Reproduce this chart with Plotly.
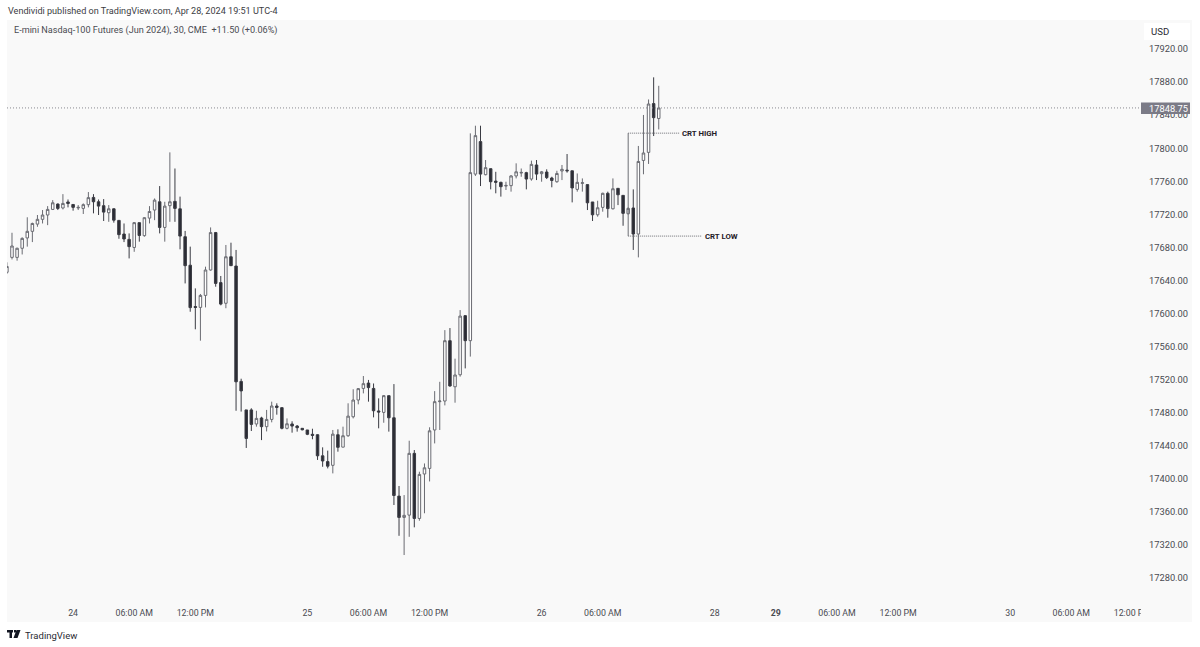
import plotly.graph_objects as go

# 30 min bars
opens = [17650, 17668, 17668, 17679, 17691.5, 17699.5, 17708.25, 17714, 17719.25, 17726, 17732.5, 17727.75, 17735, 17732, 17727.75, 17727.25, 17731.75, 17740.5, 17735.25, 17730.5, 17722, 17726.75, 17712.75, 17696.25, 17689.75, 17680, 17710, 17694.25, 17715.5, 17725.25, 17735.25, 17704.25, 17730.5, 17735.75, 17726.75,
         17693, 17658.5, 17608.5, 17607.5, 17622, 17652.75, 17698, 17637.5, 17612.5, 17668.75, 17657.5, 17518, 17483.5, 17483.5, 17466.5, 17473.75, 17463.25, 17472, 17488.25, 17486.25, 17461.25, 17466.5, 17464, 17461.25, 17459.25, 17454, 17453.5, 17428, 17421, 17416.5, 17453.5, 17438.5, 17452.25, 17475.25, 17495.5, 17509.5, 17516, 17509.5, 17482.25, 17480.5, 17500.75,
         17474, 17379.25, 17353.5, 17356.25, 17431, 17352.25, 17406, 17412.75, 17459.25, 17493.5, 17494.25, 17567.25, 17511.5, 17526, 17597.5, 17567.25,
         17768.75, 17808, 17768, 17775.25, 17760.25, 17758.75, 17754.25, 17754.75, 17766.5, 17770, 17770.5, 17762.75, 17779.75, 17769.25, 17771.25, 17764, 17759.5,
         17772.5, 17773.5, 17772.75, 17750.25, 17757.5, 17756, 17735, 17719.5, 17728.5, 17745.5, 17726.75, 17751.5, 17743, 17720.75, 17727.75, 17696.25, 17785.25, 17795, 17854, 17836]
highs = [17662, 17697.75, 17679.75, 17692.25, 17716.5, 17710, 17719.25, 17725.25, 17730, 17737.25, 17733.25, 17744.5, 17738, 17732, 17731.25, 17733.25, 17747, 17744.5, 17738, 17738.5, 17731.25, 17727.25, 17713, 17709, 17697, 17710.75, 17710, 17716.5, 17730, 17739.25, 17754.25, 17735.25, 17795, 17775.5, 17741.5,
         17700, 17681, 17630.5, 17623.75, 17656.75, 17704.25, 17698.75, 17645.5, 17683, 17685.75, 17677, 17521.25, 17483.5, 17485.5, 17482.5, 17475.25, 17483.5, 17493.5, 17491.5, 17486.5, 17473.25, 17469.75, 17465.25, 17461.5, 17459.25, 17460.75, 17454, 17438.25, 17434.25, 17459.25, 17460, 17463.25, 17491.5, 17508.5, 17510, 17524.5, 17519.75, 17515.5, 17497.5, 17501.5, 17500.75,
         17514.75, 17391.5, 17380.5, 17446.25, 17435, 17408.75, 17418.75, 17462.5, 17506.25, 17517.5, 17580, 17582.5, 17545.5, 17604.25, 17598.25, 17818,
         17827.25, 17827.25, 17785.75, 17775.5, 17771.5, 17759.5, 17759.5, 17767.5, 17781.75, 17775.5, 17771.5, 17785, 17785.75, 17772.5, 17774.5, 17765.5, 17772.75,
         17779.75, 17793, 17772.75, 17769.5, 17763.5, 17756, 17735, 17736.5, 17746.25, 17747.5, 17763.5, 17751.5, 17743, 17728.5, 17750.25, 17802.75, 17840.25, 17859, 17885.75, 17875.5]
lows = [17648, 17665.5, 17664, 17671.5, 17681, 17686.5, 17705, 17709, 17707, 17725.25, 17725.25, 17726, 17728.5, 17724.5, 17725.25, 17720.5, 17728.5, 17721.25, 17719.25, 17712, 17711, 17710, 17690.5, 17686.5, 17666.75, 17674.75, 17687, 17693, 17709, 17713, 17697, 17687, 17711, 17711, 17677.75,
        17636.5, 17602.25, 17581, 17567.25, 17607.5, 17652, 17632.5, 17610, 17606.5, 17657.5, 17482.5, 17481.5, 17437.5, 17458, 17463.25, 17447, 17457.5, 17468.5, 17477.75, 17460, 17460, 17456, 17457.25, 17458.75, 17453, 17448, 17423, 17414.75, 17412.75, 17406.75, 17433, 17438.25, 17451, 17473.25, 17490.25, 17503.5, 17493.5, 17474.5, 17461.25, 17468, 17457.25,
        17368.5, 17331.25, 17308, 17330, 17341.5, 17349.5, 17358.5, 17397, 17443, 17459.25, 17489, 17511.5, 17492.25, 17523.75, 17533.75, 17548,
        17766.5, 17754.25, 17767.25, 17750.25, 17745.5, 17741.5, 17749.5, 17747.5, 17763.5, 17765.5, 17750.25, 17760.75, 17761.5, 17759.5, 17762.75, 17752.75, 17758.25,
        17761.5, 17770.5, 17734.5, 17747.5, 17747.5, 17725.25, 17712, 17717.25, 17723.25, 17716, 17726, 17731.25, 17706.25, 17720, 17677, 17668, 17768.5, 17781, 17814.75, 17822.75]
closes = [17657, 17681.75, 17679, 17691, 17699.5, 17709, 17714, 17719.25, 17726, 17734, 17727.25, 17733.25, 17733.25, 17728.5, 17728.5, 17731.75, 17740.25, 17735.25, 17730, 17722.75, 17726.75, 17713, 17695.5, 17690.25, 17681, 17710, 17694.5, 17716, 17723.5, 17737.25, 17704.25, 17730, 17735.25, 17727.25, 17693.75,
          17658, 17607.25, 17607.5, 17622, 17652.75, 17698, 17636.5, 17611.5, 17668.75, 17658, 17517.5, 17506.5, 17449, 17466, 17473.25, 17463.25, 17472, 17488.25, 17486.5, 17461.25, 17466.75, 17464, 17462, 17459.5, 17454, 17452.75, 17428, 17421.75, 17415.5, 17454.25, 17438.25, 17452.25, 17476, 17495.5, 17509.25, 17515.25, 17510.5, 17482.5, 17481, 17500.75, 17474,
          17380, 17353.5, 17356, 17431, 17352.25, 17405.5, 17413.5, 17458.25, 17493.5, 17494.25, 17567.25, 17512.5, 17525.75, 17597, 17567.25, 17770.5,
          17815.25, 17768.75, 17776.5, 17759.5, 17758.75, 17753.5, 17755, 17766.5, 17771.5, 17770.75, 17762.75, 17780.5, 17768.75, 17771.5, 17764.5, 17761, 17769.5,
          17774.5, 17772.75, 17752, 17758.75, 17758.25, 17734, 17719.5, 17728, 17745.5, 17727, 17751, 17743.75, 17721.25, 17727.25, 17696.25, 17784, 17794.25, 17853.5, 17837, 17848.75]

bars = list(range(len(opens)))

time_ticks = [13, 25, 37, 59, 71, 83, 105, 117, 139, 151, 163, 175, 197, 209, 221]
time_labels = ["24", "06:00 AM", "12:00 PM", "25", "06:00 AM", "12:00 PM", "26", "06:00 AM", "28", "<b>29</b>",
               "06:00 AM", "12:00 PM", "30", "06:00 AM", "12:00 PM"]

last_price = 17848.75
crt_high = 17818.25
crt_low = 17693.75

FONT = "Roboto"
TEXT = "#4a4b52"
BG = "#f9f9f9"
LEFT, RIGHT, TOP, BOTTOM = 7, 1141, 20, 601


def px(x):
    return (x - LEFT) / (RIGHT - LEFT)


def py(y):
    return (BOTTOM - y) / (BOTTOM - TOP)


def box(x0, y0, x1, y1, color, layer="above"):
    return dict(type="rect", xref="paper", yref="paper", x0=px(x0), x1=px(x1), y0=py(y0), y1=py(y1),
                fillcolor=color, line_width=0, layer=layer)


def label(x, y, text, size=10, color=TEXT, anchor="left", **kw):
    return dict(xref="paper", yref="paper", x=px(x), y=py(y), text=text, showarrow=False, xanchor=anchor,
                yanchor="middle", font=dict(family=FONT, size=size, color=color), borderpad=0, **kw)


fig = go.Figure(go.Candlestick(
    x=bars, open=opens, high=highs, low=lows, close=closes,
    increasing=dict(line=dict(color="#6a6b72", width=1), fillcolor="#ffffff"),
    decreasing=dict(line=dict(color="#3a3b43", width=1), fillcolor="#2a2b33"),
    whiskerwidth=0, hoverinfo="skip", showlegend=False,
))

shapes = [
    box(7, 20, 1192, 622, BG, layer="below"),
    # hides the end of the last time label, the price scale cuts it in the original
    box(1141, 602, 1192, 622, BG),
    dict(type="line", xref="x", yref="y", x0=0.02, x1=222.7, y0=last_price, y1=last_price,
         line=dict(color="#8a8a90", width=1, dash="1px,2px")),
    # CRT range
    dict(type="line", xref="x", yref="y", x0=122, x1=122, y0=crt_low, y1=crt_high,
         line=dict(color="#6d6e74", width=1)),
    dict(type="line", xref="x", yref="y", x0=122, x1=132, y0=crt_high, y1=crt_high,
         line=dict(color="#6d6e74", width=1, dash="1px,1px")),
    dict(type="line", xref="x", yref="y", x0=122, x1=136.5, y0=crt_low, y1=crt_low,
         line=dict(color="#6d6e74", width=1, dash="1px,1px")),
    box(1144, 23, 1190, 40, "#ffffff"),
    box(1141, 102.5, 1190, 114, "#7b7b87"),
    # logo
    box(7, 630, 13, 632.5, "#131722"),
    box(9.5, 630, 12, 638, "#131722"),
    box(14, 630, 16, 632.5, "#131722"),
    dict(type="path", xref="paper", yref="paper", line_width=0, fillcolor="#131722",
         path=f"M {px(16.5)} {py(630)} L {px(20.5)} {py(630)} L {px(17.5)} {py(638)} L {px(13.5)} {py(638)} Z"),
]

annotations = [
    label(7, 10.5, "Vendividi published on TradingView.com, Apr 28, 2024 19:51 UTC-4", size=9.1, color="#3c3d44"),
    label(13, 30.5, "E-mini Nasdaq-100 Futures (Jun 2024), 30, CME  +11.50 (+0.06%)", size=9.1),
    label(1150, 31, "USD", size=9.6, color="#2a2b33"),
    label(1148, 108.5, "17848.75", size=9.3, color="#ffffff"),
    label(681, 133, "<b>CRT HIGH</b>", size=7.8, color="#1f2027"),
    label(704, 236, "<b>CRT LOW</b>", size=7.8, color="#1f2027"),
    label(24, 635, "TradingView", size=9.5, color="#2a2b33"),
]

fig.update_layout(
    width=1200, height=647,
    margin=dict(l=LEFT, r=1200 - RIGHT, t=TOP, b=647 - BOTTOM),
    paper_bgcolor="#ffffff", plot_bgcolor=BG,
    font=dict(family=FONT, size=9.3, color=TEXT),
    shapes=shapes, annotations=annotations, hovermode=False,
)
fig.update_xaxes(range=[0.02, 222.7], rangeslider_visible=False, showgrid=False, zeroline=False, showline=False,
                 tickmode="array", tickvals=time_ticks, ticktext=time_labels, ticks="", tickangle=0,
                 ticklabelstandoff=5, tickfont=dict(size=8.8))
fig.update_yaxes(range=[17252.4, 17955.1], side="right", showgrid=False, zeroline=False, showline=False,
                 tick0=17280, dtick=40, tickformat=".2f", ticks="", ticklabelstandoff=7)

fig.write_html("out.html", post_script="document.body.style.margin='0';", config=dict(displayModeBar=False))
